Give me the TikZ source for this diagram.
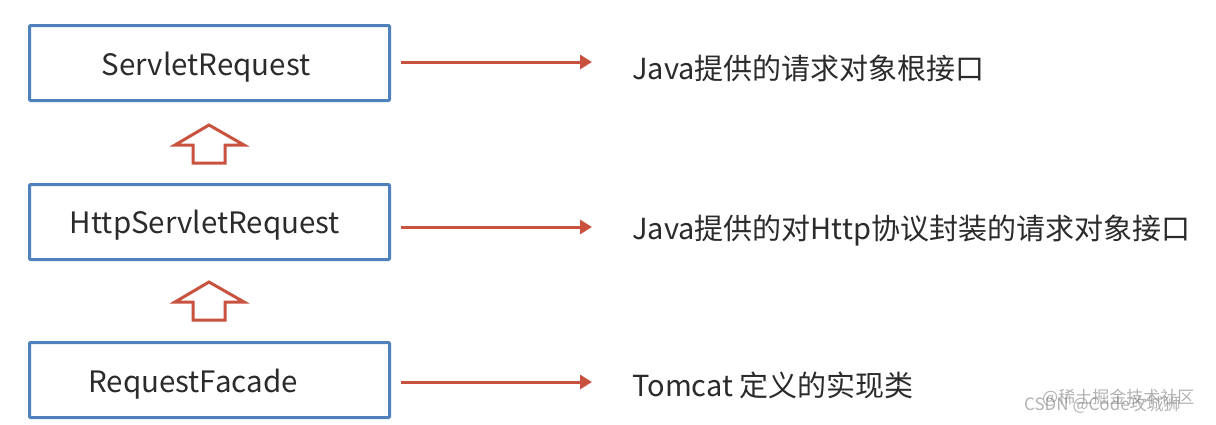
\documentclass[tikz,border=0pt]{standalone}
\usepackage{fontspec}
\setmainfont{Noto Sans CJK SC}
\usetikzlibrary{arrows.meta}
\definecolor{boxblue}{HTML}{4F81BD}
\definecolor{arrred}{HTML}{C9523F}
\definecolor{txt}{HTML}{2B2B2B}
\begin{document}
\begin{tikzpicture}[x=1pt,y=-1pt,
  classbox/.style={draw=boxblue,line width=3pt,rounded corners=1pt,minimum width=360pt,minimum height=75pt,inner sep=0pt},
  boxtext/.style={text=txt,inner sep=0pt,font=\fontsize{29.5}{32}\selectfont},
  desc/.style={anchor=west,text=txt,inner sep=0pt,font=\fontsize{29}{32}\selectfont},
  pointer/.style={draw=arrred,line width=3pt,-{Triangle[length=12pt,width=14pt]}},
  hollow/.style={draw=arrred,line width=3pt,fill=white,line join=miter}]
\useasboundingbox (0,0) rectangle (1216,424);
\fill[white] (0,0) rectangle (1216,424);
\node[classbox] (sr) at (209.5,63) {};
\node[classbox] (hsr) at (209.5,222) {};
\node[classbox] (rf) at (209.5,380) {};
\node[boxtext] (srt) at (206,67) {ServletRequest};
\node[boxtext] (hsrt) at (205,225) {HttpServletRequest};
\node[boxtext] (rft) at (193,384) {RequestFacade};
\coordinate (a1s) at (401,62);
\coordinate (a1e) at (592,62);
\coordinate (a2s) at (401,227);
\coordinate (a2e) at (592,227);
\coordinate (a3s) at (401,382);
\coordinate (a3e) at (592,382);
\node[desc] (d1) at (632,68) {Java提供的请求对象根接口};
\node[desc] (d2) at (632,231) {Java提供的对Http协议封装的请求对象接口};
\node[desc] (d3) at (632,385) {Tomcat 定义的实现类};
\draw[pointer] (a1s) -- (a1e);
\draw[pointer] (a2s) -- (a2e);
\draw[pointer] (a3s) -- (a3e);
% hollow up arrows
\draw[hollow] (209,125) -- (244,145) -- (225,145) -- (225,163) -- (193,163) -- (193,145) -- (175,145) -- cycle;
\draw[hollow] (209,282) -- (244,302) -- (225,302) -- (225,320) -- (193,320) -- (193,302) -- (175,302) -- cycle;
% watermark
\node[anchor=west,text=gray,opacity=0.6,inner sep=0pt,font=\fontsize{17}{18}\selectfont] (wm1) at (1024,405) {CSDN @Code攻城狮};
\node[anchor=west,text=gray,opacity=0.6,inner sep=0pt,font=\fontsize{17}{18}\selectfont] (wm2) at (1042,398) {@稀土掘金技术社区};
\end{tikzpicture}
\end{document}
